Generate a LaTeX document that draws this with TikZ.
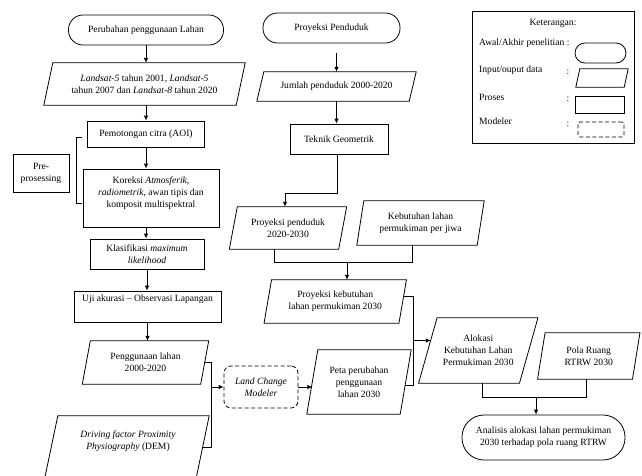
\documentclass[tikz,border=0pt]{standalone}
\usepackage{fontspec}
\setmainfont{Liberation Serif}
\usetikzlibrary{arrows.meta,calc}
\newcommand\drawpara[2]{\draw[ln] ([xshift=#2]#1.north west) -- ([xshift=#2]#1.north east) -- ([xshift=-#2]#1.south east) -- ([xshift=-#2]#1.south west) -- cycle;}
\begin{document}
\begin{tikzpicture}[x=1pt,y=-1pt,
  ln/.style={line width=0.8pt},
  txt/.style={font=\fontsize{9.6}{12}\selectfont, align=center, inner sep=0pt},
  term/.style={txt, draw, ln, rounded corners=14.5pt},
  proc/.style={txt, draw, ln},
  io/.style={txt},
  modl/.style={txt, draw, ln, dash pattern=on 4pt off 2.5pt, rounded corners=7pt},
  arr/.style={ln, -{Latex[length=5pt,width=4.5pt]}},
  con/.style={ln}
]
\useasboundingbox (0,0) rectangle (642,475);
\clip (0,0) rectangle (642,475);

% ---------- left column ----------
\node[term, minimum width=155pt, minimum height=30pt] (t1) at (146,30) {Perubahan penggunaan Lahan};
\node[io, minimum width=192pt, minimum height=42pt] (p1) at (144.5,84) {\textit{Landsat-5} tahun 2001, \textit{Landsat-5}\\tahun 2007 dan \textit{Landsat-8} tahun 2020};
\drawpara{p1}{4.5pt}
\node[proc, minimum width=117pt, minimum height=26pt] (r1) at (146,134) {Pemotongan citra (AOI)};
\node[proc, minimum width=136pt, minimum height=58pt, label={[txt,yshift=5pt]center:{Koreksi \textit{Atmosferik},\\\textit{radiometrik}, awan tipis dan\\komposit multispektral}}] (r2) at (151,198) {};
\node[proc, minimum width=56pt, minimum height=38pt] (pre) at (41,173) {Pre-\\prosessing};
\draw[con] (82,137) -- (76,137) -- (76,203) -- (82,203);
\node[proc, minimum width=114pt, minimum height=30pt] (r3) at (147,254) {Klasifikasi \textit{maximum}\\\textit{likelihood}};
\node[proc, minimum width=147pt, minimum height=31pt, label={[txt,anchor=north,yshift=-4pt]north:{Uji akurasi – Observasi Lapangan}}] (r4) at (147.5,306.5) {};
\node[io, minimum width=118pt, minimum height=43pt] (p2) at (145.5,362.5) {Penggunaan lahan\\2000-2020};
\drawpara{p2}{4pt}
\node[io, minimum width=151pt, minimum height=51pt] (p3) at (128,441.5) {\textit{Driving factor Proximity}\\\textit{Physiography} (DEM)};
\draw[ln] ([xshift=5.5pt]p3.north west) -- ([xshift=5.5pt]p3.north east) -- ++(-18,86) -- ($([xshift=5.5pt]p3.north west)+(-18,86)$) -- cycle;

\draw[arr] (t1.south) -- (t1.south |- p1.north);
\draw[arr] (r1.north |- p1.south) -- (r1.north);
\draw[arr] (r1.south) -- (r1.south |- r2.north);
\draw[arr] ([xshift=-1pt]r3.north |- r2.south) -- ([xshift=-1pt]r3.north);
\draw[arr] (r3.south) -- (r3.south |- r4.north);
\draw[arr] (r4.south) -- (r4.south |- p2.north);

\coordinate (jx) at (211,0);
\draw[con] (p2.east) -- (p2.east -| jx) -- ([yshift=-6pt]p3.east -| jx) -- ([yshift=-6pt,xshift=-1pt]p3.east);
\node[modl, minimum width=74pt, minimum height=42pt] (lcm) at (261,387) {\textit{Land Change}\\\textit{Modeler}};
\draw[arr] (lcm.west -| jx) -- (lcm.west);
\node[io, minimum width=93pt, minimum height=64pt] (p8) at (359,382) {Peta perubahan\\penggunaan\\lahan 2030};
\drawpara{p8}{5.5pt}
\draw[arr] (lcm.east) -- (lcm.east -| p8.west);

% ---------- middle column ----------
\node[term, minimum width=137pt, minimum height=30pt] (t2) at (331.5,28) {Proyeksi Penduduk};
\node[io, minimum width=152pt, minimum height=29pt] (p4) at (336.5,86.5) {Jumlah penduduk 2000-2020};
\drawpara{p4}{3.5pt}
\draw[arr, shorten <=10pt] (p4.north |- t2.south) -- (p4.north);
\node[proc, minimum width=98pt, minimum height=30pt] (r5) at (339,139) {Teknik Geometrik};
\draw[arr] (p4.south) -- (p4.south |- r5.north);
\node[io, minimum width=109pt, minimum height=42pt] (p5) at (288,228) {Proyeksi penduduk\\2020-2030};
\drawpara{p5}{4pt}
\coordinate (m1) at (0,193);
\draw[arr] ([xshift=-2pt]r5.south) -- ([xshift=-2pt]r5.south |- m1) -- ([xshift=-3pt]p5.north |- m1) -- ([xshift=-3pt]p5.north);
\node[io, minimum width=120pt, minimum height=44pt] (p6) at (420.5,223) {Kebutuhan lahan\\permukiman per jiwa};
\drawpara{p6}{3.5pt}
\coordinate (m2) at (0,262);
\draw[con] ([xshift=-14pt]p5.south) -- ([xshift=-14pt]p5.south |- m2) -- ([xshift=-8.5pt]p6.south |- m2) -- ([xshift=-8.5pt]p6.south);
\node[io, minimum width=134.5pt, minimum height=43pt] (p7) at (335.25,301.5) {Proyeksi kebutuhan\\lahan permukiman 2030};
\drawpara{p7}{3.75pt}
\draw[arr] ([xshift=11.75pt]p7.north |- m2) -- ([xshift=11.75pt]p7.north);

% ---------- right column ----------
\coordinate (jx2) at (413,0);
\draw[con] ([yshift=5pt,xshift=1pt]p7.east) -- ([yshift=5pt]p7.east -| jx2) -- ([yshift=-3pt]p8.east -| jx2) -- ([yshift=-3pt,xshift=-0.5pt]p8.east);
\node[io, minimum width=100.5pt, minimum height=65pt] (p9) at (478.25,350.5) {Alokasi\\Kebutuhan Lahan\\Permukiman 2030};
\drawpara{p9}{9.25pt}
\draw[arr] ([yshift=10pt]p9.west -| jx2) -- ([yshift=10pt,xshift=3pt]p9.west);
\node[io, minimum width=94.5pt, minimum height=46pt] (p10) at (588.75,356) {Pola Ruang\\RTRW 2030};
\drawpara{p10}{3.75pt}
\node[term, rounded corners=22pt, minimum width=163pt, minimum height=45pt] (t3) at (543.5,437.5) {Analisis alokasi lahan permukiman\\2030 terhadap pola ruang RTRW};
\coordinate (m3) at (0,397);
\draw[con] ([xshift=4pt]p9.south) -- ([xshift=4pt]p9.south |- m3) -- ([xshift=-2pt]p10.south |- m3) -- ([xshift=-2pt]p10.south);
\draw[arr] ([xshift=-7.5pt]t3.north |- m3) -- ([xshift=-7.5pt]t3.north);

% ---------- legend ----------
\draw[ln] (472,11) rectangle (634,143);
\node[txt] (kt) at (553,23) {Keterangan:};
\node[txt, anchor=west] (k1) at (479,43) {Awal/Akhir penelitian :};
\node[txt, anchor=west] (k2) at (479,70) {Input/ouput data};
\node[txt, anchor=west] (k3) at (479,97) {Proses};
\node[txt, anchor=west] (k4) at (479,121) {Modeler};
\node[txt] (c2) at (568,72) {:};
\node[txt] (c3) at (568,99) {:};
\node[txt] (c4) at (568,124) {:};
\node[term, rounded corners=10pt, minimum width=51pt, minimum height=20pt] (ls1) at (600.5,53) {};
\node[io, minimum width=48pt, minimum height=18pt] (ls2) at (602,78) {};
\drawpara{ls2}{2pt}
\node[proc, minimum width=49pt, minimum height=17pt] (ls3) at (599.5,104.5) {};
\node[modl, rounded corners=2pt, minimum width=46pt, minimum height=15pt] (ls4) at (601,129.5) {};
\end{tikzpicture}
\end{document}
